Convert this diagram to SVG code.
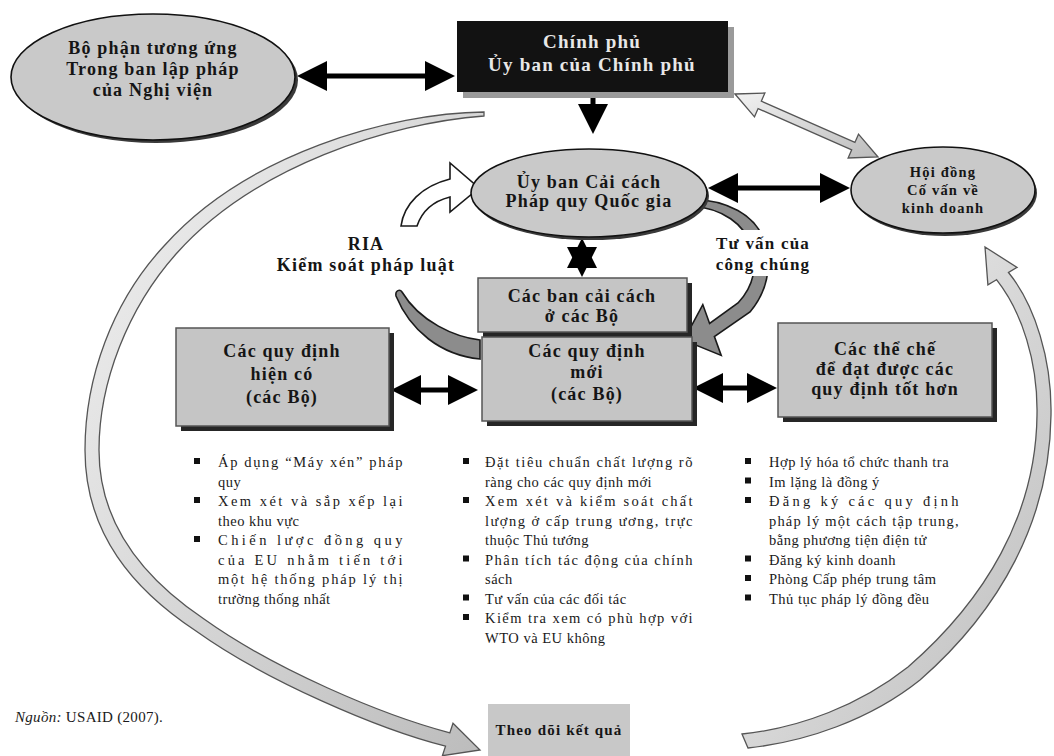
<svg xmlns="http://www.w3.org/2000/svg" width="1054" height="756" viewBox="0 0 1054 756">
<defs>
<style>
.nt{font-family:"Liberation Serif","Times New Roman",serif;font-weight:bold;font-size:18px;letter-spacing:1.2px;fill:#151515;text-anchor:middle}
.wt{fill:#e8e8e8;font-size:19px}
.sm{font-size:14.5px}
.bt{font-family:"Liberation Serif","Times New Roman",serif;font-size:14.5px;letter-spacing:0.5px;fill:#1a1a1a}
.ell{fill:#c9c9c9;stroke:#111;stroke-width:1.6}
.esh{fill:#3a3a3a}
.box{fill:#c5c5c5;stroke:#555;stroke-width:1.5}
.bsh{fill:#262626}
.blk{stroke:#000;stroke-width:5;fill:none}
.band{fill:url(#gBand);stroke:#555;stroke-width:1.3}
.dband{fill:#8c8c8c;stroke:#1a1a1a;stroke-width:1.6}
.bul{fill:#111}
</style>
<marker id="ah" viewBox="0 0 30 30" refX="0" refY="15" markerWidth="30" markerHeight="30" markerUnits="userSpaceOnUse" orient="auto-start-reverse"><path d="M0,0 L30,15 L0,30 Z" fill="#000"/></marker>
<linearGradient id="gBand" x1="0" y1="0" x2="1" y2="1"><stop offset="0" stop-color="#f2f2f2"/><stop offset="1" stop-color="#bcbcbc"/></linearGradient>
</defs>
<rect width="1054" height="756" fill="#fff"/>

<g id="connectors">
  <path class="band" d="M484,112 C390,113 246,154 164,246 C112,302 85,378 85,450 C85,534 134,590 196,631 C266,681 378,729 445.5,746.2 L442.4,755.7 L480,750 L453,723.3 L449.9,732.8 C382,715 274,669 204,619 C146,580 99,526 99,450 C99,382 128,308 176,254 C254,166 390,123 484,116 Z"/>
  <path class="band" d="M996.5,279.7 L987.9,284.8 L985,247 L1017.1,267.4 L1008.5,272.5 C1035,305 1052,360 1051,415 C1050,520 1000,610 920,680 C870,720 805,742 748,748 L742,734 C800,728 860,705 908,667 C985,600 1036,515 1037,415 C1038,362 1022,312 996.5,279.7 Z"/>
  <path class="band" d="M735,94 L764.9,93 L761.3,101.2 L854.9,142.4 L858.5,134.2 L878,157 L848.1,158 L851.7,149.8 L758.1,108.6 L754.5,116.8 Z"/>
  <path class="dband" d="M480,340 C455,337 420,322 402,292 C400,289 395,290 396,296 C410,330 440,355 480,359 Z"/>
  <path fill="#fff" stroke="#1a1a1a" stroke-width="1.6" d="M401,226 C404,204 422,186 450,179 L450,163 L479,188 L450,212 L450,197 C434,201 422,211 417,226 Z"/>
  <path class="dband" d="M690,199 C728,200 755,215 764,240 C772,265 768,290 750,312 L714.4,336.6 L721.2,355.4 L683.8,340.2 L702.8,304.6 L709.6,323.4 L738,303 C754,286 758,265 751,245 C744,225 724,208 690,206 Z"/>
  <line class="blk" x1="327" y1="76" x2="425" y2="76" marker-start="url(#ah)" marker-end="url(#ah)"/>
  <line class="blk" x1="593" y1="92" x2="593" y2="104" marker-end="url(#ah)"/>
  <line class="blk" x1="738" y1="188" x2="820" y2="188" marker-start="url(#ah)" marker-end="url(#ah)"/>
  <polygon points="582,238 567,268 597,268" fill="#000"/>
  <polygon points="582,277 567,247 597,247" fill="#000"/>
  <line class="blk" x1="421" y1="390" x2="448" y2="390" marker-start="url(#ah)" marker-end="url(#ah)"/>
  <line class="blk" x1="723" y1="388" x2="747" y2="388" marker-start="url(#ah)" marker-end="url(#ah)"/>
  <text class="nt"><tspan x="366" y="250">RIA</tspan><tspan x="366" y="271">Kiểm soát pháp luật</tspan></text>
  <rect x="714" y="230" width="100" height="46" fill="#fff"/>
  <text class="nt" style="font-size:17px"><tspan x="763" y="249">Tư vấn của</tspan><tspan x="763" y="270">công chúng</tspan></text>
</g>

<g id="node-nghivien">
  <ellipse class="esh" cx="156" cy="80" rx="142" ry="63"/>
  <ellipse class="ell" cx="153" cy="77" rx="142" ry="63"/>
  <text class="nt"><tspan x="153" y="54">Bộ phận tương ứng</tspan><tspan x="153" y="75">Trong ban lập pháp</tspan><tspan x="153" y="96">của Nghị viện</tspan></text>
</g>

<g id="node-chinhphu">
  <rect x="463" y="27" width="271" height="71" fill="#9a9a9a"/>
  <rect x="457" y="21" width="271" height="71" fill="#121212"/>
  <text class="nt wt"><tspan x="592" y="48">Chính phủ</tspan><tspan x="592" y="71">Ủy ban của Chính phủ</tspan></text>
</g>

<g id="node-uyban">
  <ellipse class="esh" cx="591" cy="196" rx="118" ry="44"/>
  <ellipse class="ell" cx="589" cy="193" rx="118" ry="44"/>
  <text class="nt"><tspan x="589" y="188">Ủy ban Cải cách</tspan><tspan x="589" y="207">Pháp quy Quốc gia</tspan></text>
</g>

<g id="node-hoidong">
  <ellipse class="esh" cx="945" cy="193" rx="92" ry="43"/>
  <ellipse class="ell" cx="943" cy="190" rx="92" ry="43"/>
  <text class="nt sm"><tspan x="943" y="177">Hội đồng</tspan><tspan x="943" y="195">Cố vấn về</tspan><tspan x="943" y="213">kinh doanh</tspan></text>
</g>

<g id="node-bancaicach">
  <rect class="bsh" x="483" y="283" width="209" height="54"/>
  <rect class="box" x="478" y="278" width="209" height="54"/>
  <text class="nt"><tspan x="582" y="302">Các ban cải cách</tspan><tspan x="582" y="322">ở các Bộ</tspan></text>
</g>

<g id="node-quydinhmoi">
  <rect class="bsh" x="487" y="342" width="210" height="84"/>
  <rect class="box" x="482" y="337" width="210" height="84"/>
  <text class="nt"><tspan x="587" y="357">Các quy định</tspan><tspan x="587" y="378">mới</tspan><tspan x="587" y="400">(các Bộ)</tspan></text>
</g>

<g id="node-hienco">
  <rect class="bsh" x="181" y="333" width="213" height="98"/>
  <rect class="box" x="176" y="328" width="213" height="98"/>
  <text class="nt"><tspan x="282" y="357">Các quy định</tspan><tspan x="282" y="380">hiện có</tspan><tspan x="282" y="403">(các Bộ)</tspan></text>
</g>

<g id="node-thieche">
  <rect class="bsh" x="783" y="328" width="214" height="94"/>
  <rect class="box" x="778" y="323" width="214" height="94"/>
  <text class="nt"><tspan x="885" y="355">Các thể chế</tspan><tspan x="885" y="375">để đạt được các</tspan><tspan x="885" y="395">quy định tốt hơn</tspan></text>
</g>

<g id="node-theodoi">
  <rect x="488" y="704" width="142" height="52" fill="#c8c8c8"/>
  <text class="nt" style="font-size:15px"><tspan x="559" y="735">Theo dõi kết quả</tspan></text>
</g>

<g id="list-hienco">
  <rect class="bul" x="194" y="458" width="6" height="6"/>
  <rect class="bul" x="194" y="497" width="6" height="6"/>
  <rect class="bul" x="194" y="536" width="6" height="6"/>
  <text class="bt">
    <tspan x="218" y="467" textLength="185" lengthAdjust="spacing">Áp dụng “Máy xén” pháp</tspan>
    <tspan x="218" y="486.5">quy</tspan>
    <tspan x="218" y="506" textLength="185" lengthAdjust="spacing">Xem xét và sắp xếp lại</tspan>
    <tspan x="218" y="525.5">theo khu vực</tspan>
    <tspan x="218" y="545" textLength="185" lengthAdjust="spacing">Chiến lược đồng quy</tspan>
    <tspan x="218" y="564.5" textLength="185" lengthAdjust="spacing">của EU nhằm tiến tới</tspan>
    <tspan x="218" y="584" textLength="185" lengthAdjust="spacing">một hệ thống pháp lý thị</tspan>
    <tspan x="218" y="603.5">trường thống nhất</tspan>
  </text>
</g>

<g id="list-quydinhmoi">
  <rect class="bul" x="463" y="458" width="6" height="6"/>
  <rect class="bul" x="463" y="497" width="6" height="6"/>
  <rect class="bul" x="463" y="555.5" width="6" height="6"/>
  <rect class="bul" x="463" y="594.5" width="6" height="6"/>
  <rect class="bul" x="463" y="614" width="6" height="6"/>
  <text class="bt">
    <tspan x="485" y="467" textLength="208" lengthAdjust="spacing">Đặt tiêu chuẩn chất lượng rõ</tspan>
    <tspan x="485" y="486.5">ràng cho các quy định mới</tspan>
    <tspan x="485" y="506" textLength="208" lengthAdjust="spacing">Xem xét và kiểm soát chất</tspan>
    <tspan x="485" y="525.5" textLength="208" lengthAdjust="spacing">lượng ở cấp trung ương, trực</tspan>
    <tspan x="485" y="545">thuộc Thủ tướng</tspan>
    <tspan x="485" y="564.5" textLength="208" lengthAdjust="spacing">Phân tích tác động của chính</tspan>
    <tspan x="485" y="584">sách</tspan>
    <tspan x="485" y="603.5">Tư vấn của các đối tác</tspan>
    <tspan x="485" y="623" textLength="208" lengthAdjust="spacing">Kiểm tra xem có phù hợp với</tspan>
    <tspan x="485" y="642.5">WTO và EU không</tspan>
  </text>
</g>

<g id="list-thieche">
  <rect class="bul" x="745" y="458" width="6" height="6"/>
  <rect class="bul" x="745" y="477.5" width="6" height="6"/>
  <rect class="bul" x="745" y="497" width="6" height="6"/>
  <rect class="bul" x="745" y="555.5" width="6" height="6"/>
  <rect class="bul" x="745" y="575" width="6" height="6"/>
  <rect class="bul" x="745" y="594.5" width="6" height="6"/>
  <text class="bt">
    <tspan x="769" y="467">Hợp lý hóa tổ chức thanh tra</tspan>
    <tspan x="769" y="486.5">Im lặng là đồng ý</tspan>
    <tspan x="769" y="506" textLength="190" lengthAdjust="spacing">Đăng ký các quy định</tspan>
    <tspan x="769" y="525.5" textLength="190" lengthAdjust="spacing">pháp lý một cách tập trung,</tspan>
    <tspan x="769" y="545">bằng phương tiện điện tử</tspan>
    <tspan x="769" y="564.5">Đăng ký kinh doanh</tspan>
    <tspan x="769" y="584">Phòng Cấp phép trung tâm</tspan>
    <tspan x="769" y="603.5">Thủ tục pháp lý đồng đều</tspan>
  </text>
</g>

<g id="source">
  <text class="bt" style="font-size:15px;letter-spacing:0.3px" x="15" y="722"><tspan font-style="italic">Nguồn:</tspan> USAID (2007).</text>
</g>
</svg>
